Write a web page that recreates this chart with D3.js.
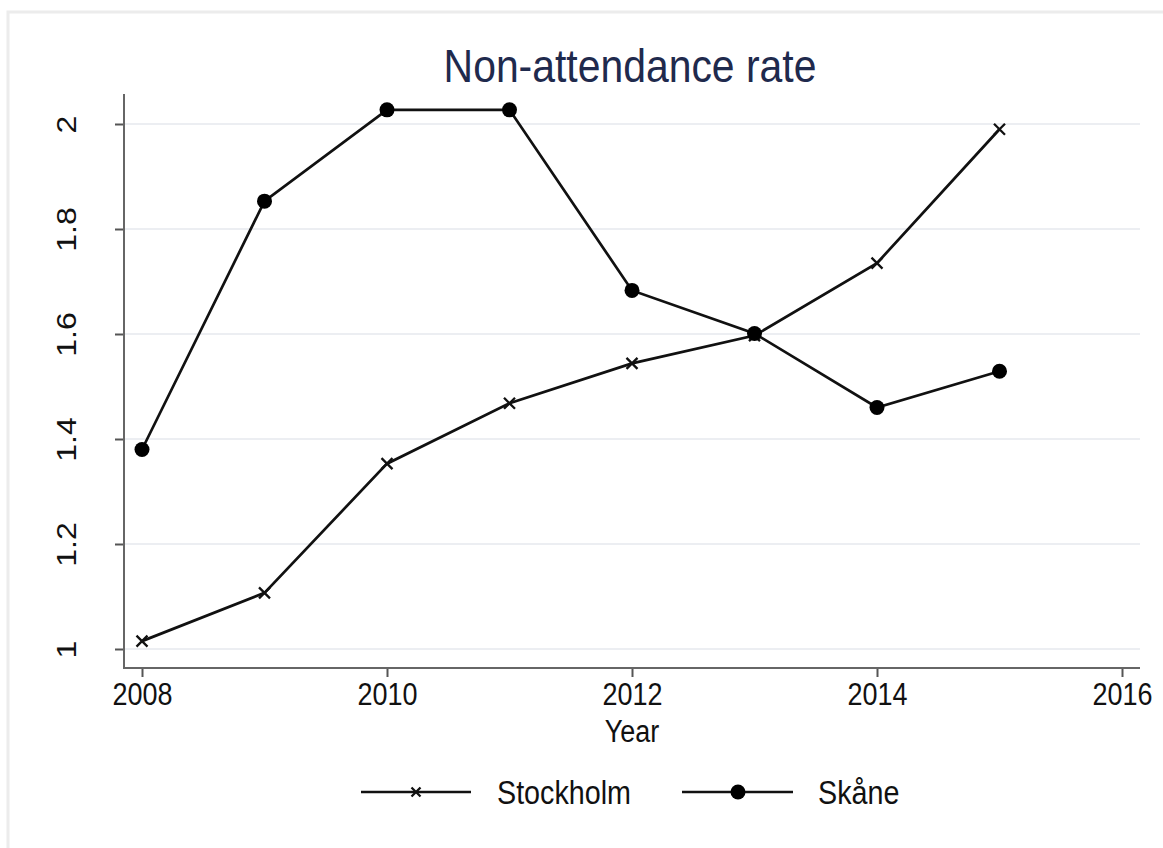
<!DOCTYPE html>
<html>
<head>
<meta charset="utf-8">
<script src="https://cdn.jsdelivr.net/npm/d3@7"></script>
<style>
html,body{margin:0;padding:0;background:#fff;}
svg{display:block;font-family:"Liberation Sans",Arial,Helvetica,sans-serif;}
</style>
</head>
<body>
<svg id="chart" width="1163" height="848"></svg>
<script>
const years = [2008, 2009, 2010, 2011, 2012, 2013, 2014, 2015];
const stockholm = [1.015, 1.107, 1.353, 1.468, 1.544, 1.597, 1.735, 1.990];
const skane = [1.380, 1.853, 2.027, 2.027, 1.683, 1.601, 1.460, 1.529];
const xTicks = [2008, 2010, 2012, 2014, 2016];
const yTicks = [1, 1.2, 1.4, 1.6, 1.8, 2];
const seriesNames = ["Stockholm", "Skåne"];
const titleText = "Non-attendance rate";
const xTitle = "Year";

const svg = d3.select("#chart");
const W = 1163, H = 848;
const SQ = 0.87; // horizontal squeeze of the original's lettering

// outer frame
svg.append("rect").attr("x", 8).attr("y", 12).attr("width", W).attr("height", H)
  .attr("fill", "#fff").attr("stroke", "#ececec").attr("stroke-width", 3);

const x = d3.scaleLinear().domain([2008, 2016]).range([142, 1122]);
const y = d3.scaleLinear().domain([1, 2]).range([649, 124]);
const axisX = 124, axisY = 668, plotRight = 1140, plotTop = 94;

// gridlines
svg.append("g").selectAll("line").data(yTicks).join("line")
  .attr("x1", axisX).attr("x2", plotRight)
  .attr("y1", d => y(d)).attr("y2", d => y(d))
  .attr("stroke", "#eceef2").attr("stroke-width", 2);

// title
svg.append("text").attr("transform", `translate(630,82) scale(${SQ},1)`).attr("text-anchor", "middle")
  .attr("font-size", 47).attr("fill", "#1f2a4d").text(titleText);

// y axis
const gy = svg.append("g").attr("transform", `translate(${axisX},0)`)
  .call(d3.axisLeft(y).tickValues(yTicks).tickSize(9).tickPadding(0).tickFormat(d3.format("~g")));
gy.select(".domain").remove();
gy.selectAll(".tick line").attr("stroke", "#555").attr("stroke-width", 2);
gy.selectAll(".tick text").remove();
gy.selectAll(".tick").append("text")
  .attr("transform", `translate(-58,0) rotate(-90) scale(1,${SQ})`)
  .attr("text-anchor", "middle").attr("dy", "0.35em")
  .attr("font-size", 32).attr("fill", "#111")
  .attr("font-family", "Liberation Sans, Arial, sans-serif")
  .text(d => d3.format("~g")(d));
svg.append("line").attr("x1", axisX).attr("x2", axisX).attr("y1", plotTop).attr("y2", axisY)
  .attr("stroke", "#666").attr("stroke-width", 2);

// x axis
const gx = svg.append("g").attr("transform", `translate(0,${axisY})`)
  .call(d3.axisBottom(x).tickValues(xTicks).tickSize(9).tickPadding(6).tickFormat(d3.format("d")));
gx.select(".domain").remove();
gx.selectAll(".tick line").attr("stroke", "#555").attr("stroke-width", 2);
gx.selectAll(".tick text").attr("font-size", 31).attr("fill", "#111")
  .attr("transform", `scale(${SQ},1)`)
  .attr("font-family", "Liberation Sans, Arial, sans-serif");
svg.append("line").attr("x1", axisX - 1).attr("x2", plotRight).attr("y1", axisY).attr("y2", axisY)
  .attr("stroke", "#666").attr("stroke-width", 2);

svg.append("text").attr("transform", `translate(632,742) scale(${SQ},1)`).attr("text-anchor", "middle")
  .attr("font-size", 31).attr("fill", "#111").text(xTitle);

// lines
const line = d3.line().x((d, i) => x(years[i])).y(d => y(d));
[stockholm, skane].forEach(s => {
  svg.append("path").datum(s).attr("d", line)
    .attr("fill", "none").attr("stroke", "#111").attr("stroke-width", 2.7);
});

// markers
const xMark = (g, cx, cy, r) => {
  g.append("path").attr("d", `M${cx - r},${cy - r}L${cx + r},${cy + r}M${cx - r},${cy + r}L${cx + r},${cy - r}`)
    .attr("stroke", "#111").attr("stroke-width", 2.3).attr("fill", "none");
};
const mg = svg.append("g");
stockholm.forEach((v, i) => xMark(mg, x(years[i]), y(v), 5.5));
mg.selectAll("circle").data(skane).join("circle")
  .attr("cx", (d, i) => x(years[i])).attr("cy", d => y(d)).attr("r", 7.5).attr("fill", "#000");

// legend
const lg = svg.append("g");
const ly = 792;
lg.append("line").attr("x1", 361).attr("x2", 471).attr("y1", ly).attr("y2", ly).attr("stroke", "#111").attr("stroke-width", 2.7);
xMark(lg, 416, ly, 4.5);
lg.append("text").attr("transform", `translate(497,${ly}) scale(${SQ},1)`).attr("dy", "0.35em").attr("font-size", 33).attr("fill", "#111").text(seriesNames[0]);
lg.append("line").attr("x1", 682).attr("x2", 793).attr("y1", ly).attr("y2", ly).attr("stroke", "#111").attr("stroke-width", 2.7);
lg.append("circle").attr("cx", 738).attr("cy", ly).attr("r", 7.5).attr("fill", "#000");
lg.append("text").attr("transform", `translate(818,${ly}) scale(${SQ},1)`).attr("dy", "0.35em").attr("font-size", 33).attr("fill", "#111").text(seriesNames[1]);
</script>
</body>
</html>
